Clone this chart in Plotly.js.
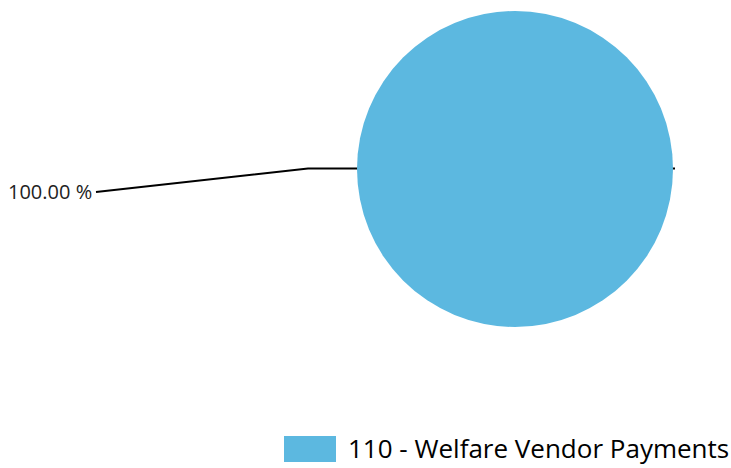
<!DOCTYPE html>
<html>
<head>
<meta charset="utf-8">
<script src="https://cdn.plot.ly/plotly-3.0.1.min.js"></script>
<style>html,body{margin:0;padding:0;background:#fff;}#chart{width:731px;height:468px;}</style>
</head>
<body>
<div id="chart"></div>
<script>
const categories = ["110 - Welfare Vendor Payments"];
const values = [100];
const sliceColors = ["#5CB8E0"];

const total = values.reduce((a, b) => a + b, 0);
const pctLabel = (values[0] / total * 100).toFixed(2) + " %";

const W = 731, H = 468;
const px = x => x / W;
const py = y => 1 - y / H;

const data = [{
  type: "pie",
  labels: categories,
  values: values,
  marker: { colors: sliceColors, line: { width: 0 } },
  textinfo: "none",
  hoverinfo: "label+percent",
  sort: false,
  domain: { x: [px(357), px(673)], y: [py(327), py(11)] }
}];

const layout = {
  width: W, height: H,
  margin: { l: 0, r: 0, t: 0, b: 0 },
  paper_bgcolor: "#ffffff",
  plot_bgcolor: "#ffffff",
  showlegend: false,
  font: { family: "Open Sans, Noto Sans, sans-serif", color: "#000" },
  shapes: [
    { type: "path", xref: "paper", yref: "paper", layer: "below",
      path: `M ${px(96)} ${py(192)} L ${px(308)} ${py(168.5)} L ${px(675)} ${py(168.5)}`,
      line: { color: "#000", width: 2 } },
    { type: "rect", xref: "paper", yref: "paper",
      x0: px(284), x1: px(336), y0: py(462), y1: py(436),
      fillcolor: sliceColors[0], line: { width: 0 } }
  ],
  annotations: [
    { xref: "paper", yref: "paper", x: px(94), y: py(191),
      xanchor: "right", yanchor: "middle", showarrow: false,
      text: pctLabel, font: { size: 20, color: "#222" } },
    { xref: "paper", yref: "paper", x: px(346), y: py(448),
      xanchor: "left", yanchor: "middle", showarrow: false,
      text: categories[0], font: { size: 26, color: "#000" } }
  ]
};

Plotly.newPlot("chart", data, layout, { displayModeBar: false });
</script>
</body>
</html>
